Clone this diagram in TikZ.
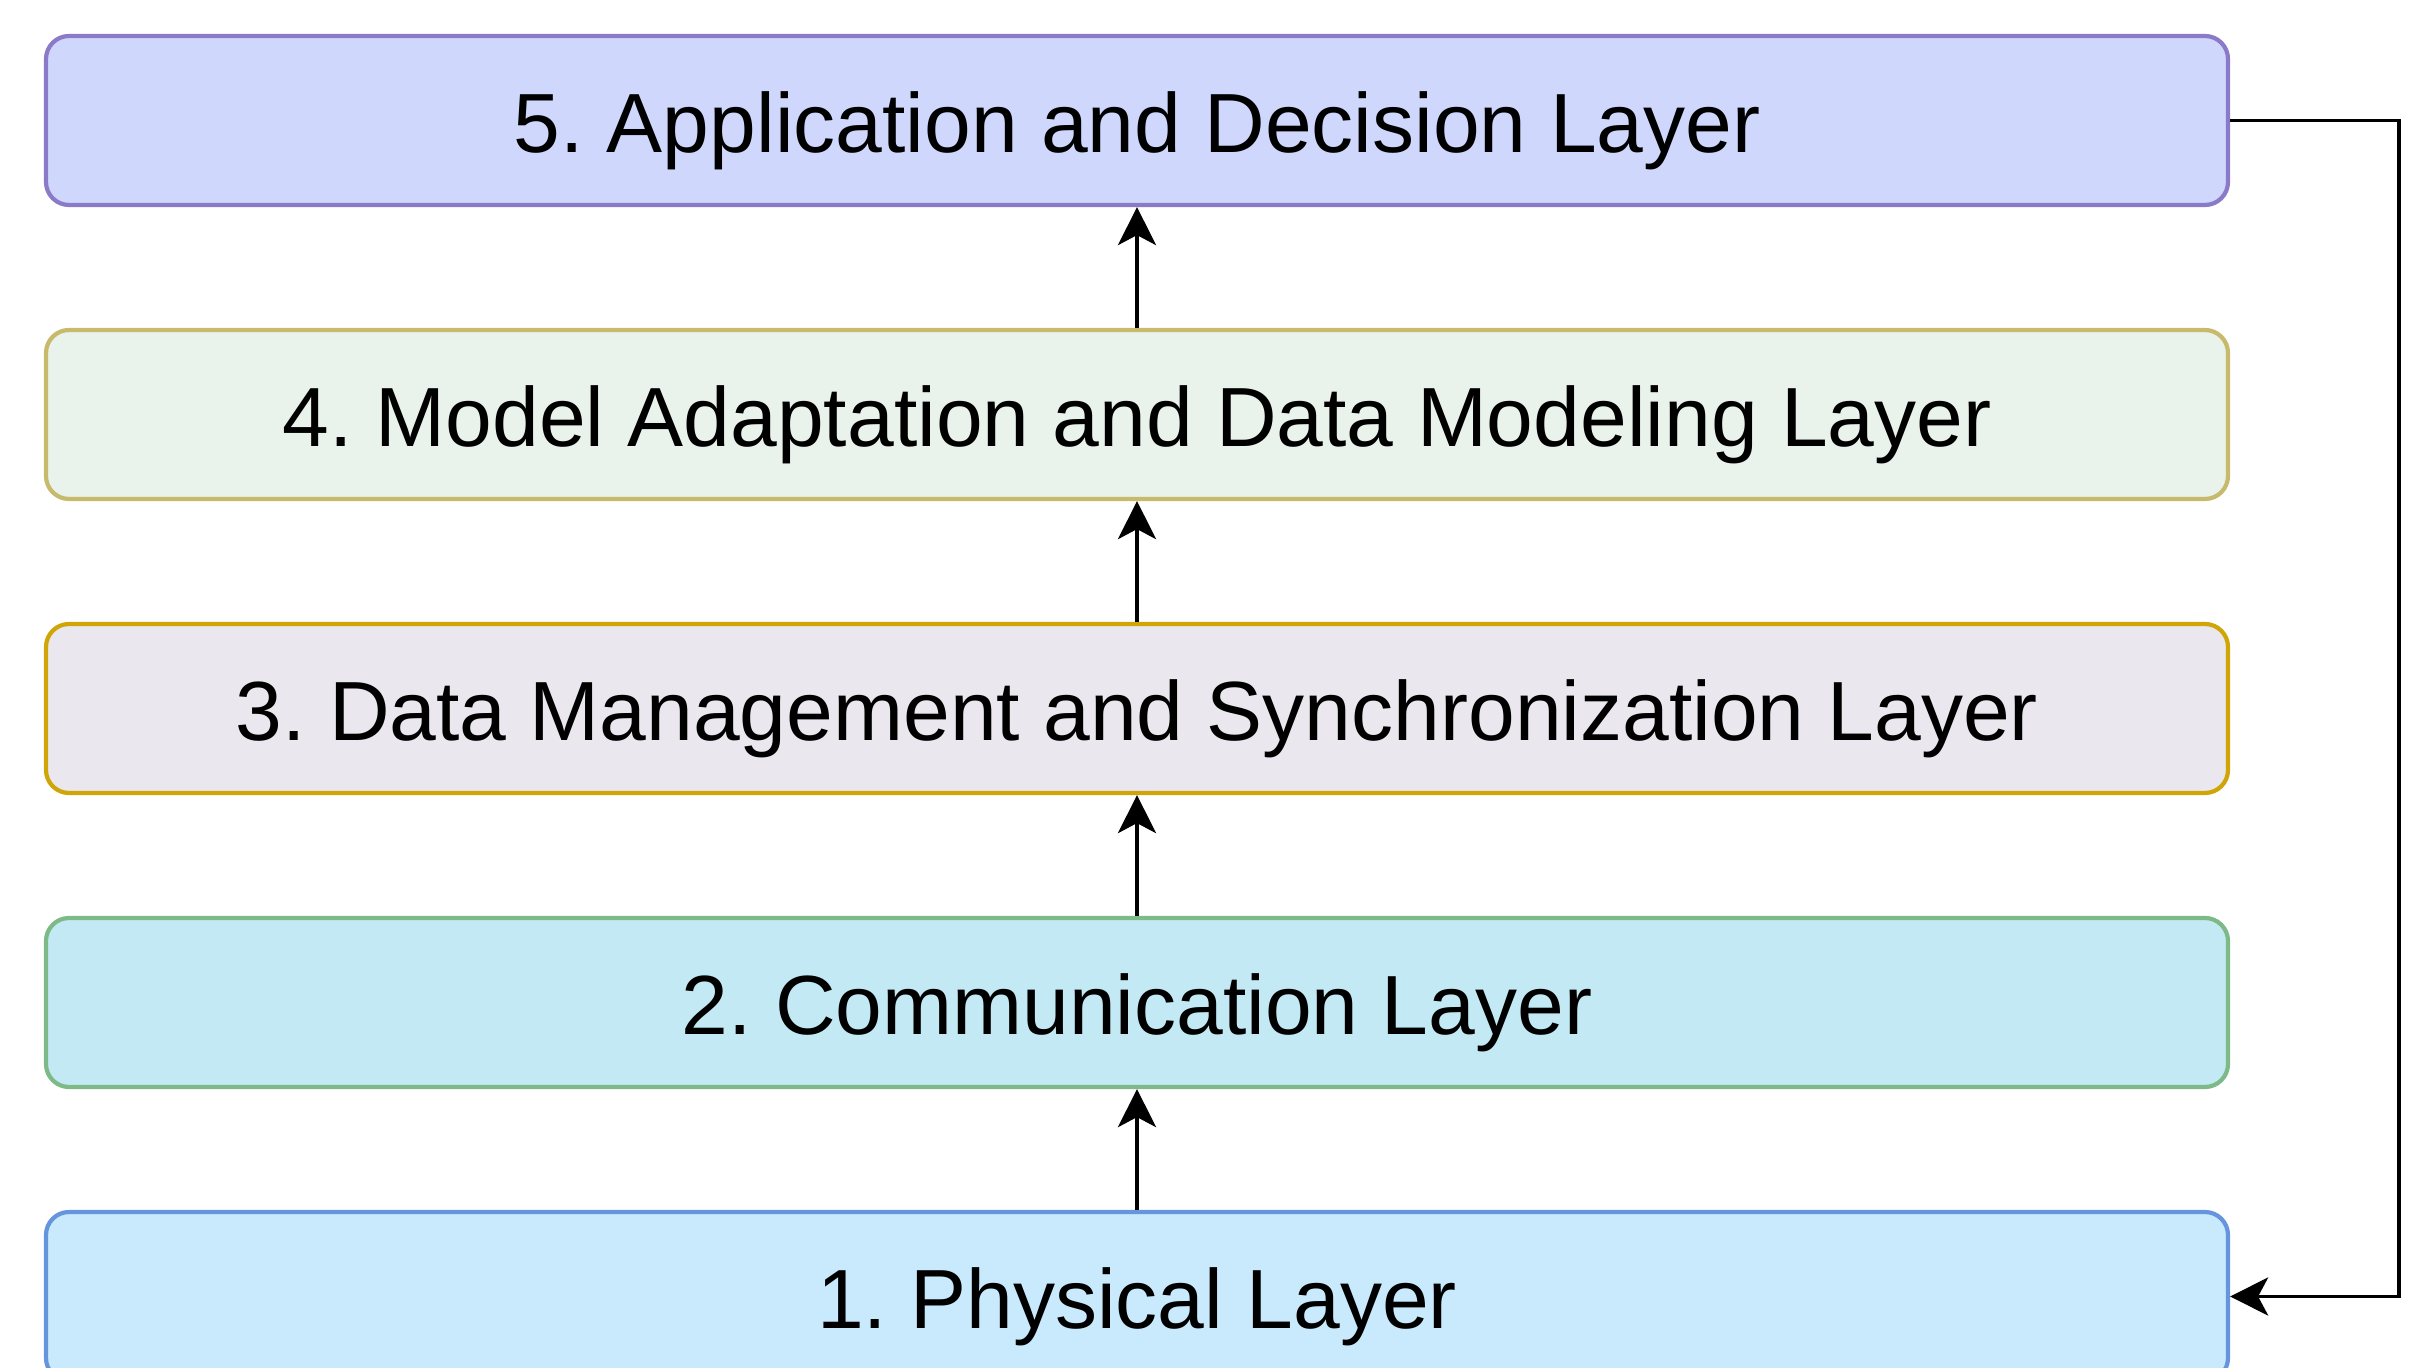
\documentclass[tikz,border=0pt]{standalone}
\usepackage{fontspec}
\setmainfont{Liberation Sans}
\usetikzlibrary{arrows.meta}
\frenchspacing

\definecolor{appfill}{HTML}{CFD8FC}
\definecolor{appline}{HTML}{8A7AC8}
\definecolor{modfill}{HTML}{E9F3EB}
\definecolor{modline}{HTML}{C7BA6C}
\definecolor{datfill}{HTML}{EAE8EE}
\definecolor{datline}{HTML}{CFA507}
\definecolor{comfill}{HTML}{C3EAF4}
\definecolor{comline}{HTML}{7DBA88}
\definecolor{phyfill}{HTML}{C9EAFD}
\definecolor{phyline}{HTML}{6694DD}

\begin{document}
\begin{tikzpicture}[line width=1.1pt,
  every node/.style={draw, rounded corners=.23cm, minimum width=21.82cm,
    minimum height=1.69cm, line width=1.2pt, inner sep=0pt,
    text height=.84cm, text depth=.2cm,
    font=\fontsize{23.9}{28}\selectfont},
  >={Stealth[length=.38cm, width=.38cm, inset=.1cm]}
]
    \useasboundingbox (0,0) rectangle (24.24,13.68);
    \node[draw=appline, fill=appfill] (l5) at (11.37,12.475) {5. Application and Decision Layer};
    \node[draw=modline, fill=modfill] (l4) at (11.37,9.535) {4. Model Adaptation and Data Modeling Layer};
    \node[draw=datline, fill=datfill] (l3) at (11.37,6.595) {3. Data Management and Synchronization Layer};
    \node[draw=comline, fill=comfill] (l2) at (11.37,3.655) {2. Communication Layer};
    \node[draw=phyline, fill=phyfill] (l1) at (11.37,0.715) {1. Physical Layer};
    \draw[->] (l1) -- (l2);
    \draw[->] (l2) -- (l3);
    \draw[->] (l3) -- (l4);
    \draw[->] (l4) -- (l5);
    \draw[->] (l5.east) -- ++(1.69,0) |- (l1.east);
\end{tikzpicture}
\end{document}
